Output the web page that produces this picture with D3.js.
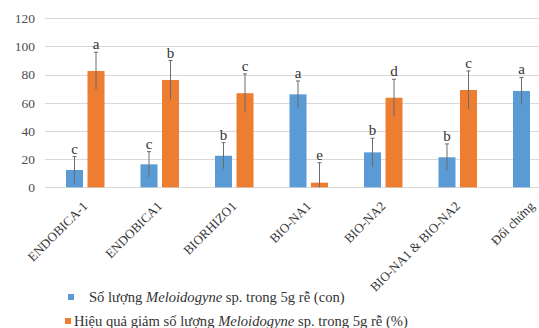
<!DOCTYPE html>
<html>
<head>
<meta charset="utf-8">
<script src="https://cdn.jsdelivr.net/npm/d3@7"></script>
<style>
  body { margin: 0; background: #fff; }
  text { font-family: "Liberation Serif", "DejaVu Serif", serif; }
</style>
</head>
<body>
<div id="chart"></div>
<script>
const categories = ["ENDOBICA-1", "ENDOBICA1", "BIORHIZO1", "BIO-NA1", "BIO-NA2", "BIO-NA1 & BIO-NA2", "Đối chứng"];
const series = ["count", "eff"];
const countValues = [12.3, 16.3, 22.4, 66, 24.8, 21.3, 68.4];
const countErr = [9.5, 9, 9.3, 9.5, 10, 9.5, 9.6];
const countLetters = ["c", "c", "b", "a", "b", "b", "a"];
const effValues = [82.6, 76.2, 66.8, 3.3, 63.6, 69.1, null];
const effErr = [13.3, 13.8, 13.7, 14.2, 13.1, 13.5, null];
const effLetters = ["a", "b", "c", "e", "d", "c", ""];
const yTicks = [0, 20, 40, 60, 80, 100, 120];

const width = 539;
const height = 328;
const serif = "Liberation Serif, DejaVu Serif, serif";

const svg = d3.select("#chart")
  .append("svg")
  .attr("width", width)
  .attr("height", height)
  .attr("font-family", serif);

const color = d3.scaleOrdinal()
  .domain(series)
  .range(["#5b9bd5", "#ed7d31"]);

// plot area runs past the right edge, like the cropped original
const x0 = d3.scaleBand()
  .domain(categories)
  .range([46, 46 + 74.5 * categories.length]);

const x1 = d3.scaleBand()
  .domain(series)
  .range([20, 58.5])
  .paddingInner(0.21);

const y = d3.scaleLinear()
  .domain([0, 120])
  .range([187.3, 18.3]);

// gridlines
svg.append("g")
  .selectAll("line")
  .data(yTicks)
  .enter().append("line")
  .attr("x1", 45)
  .attr("x2", width)
  .attr("y1", d => Math.round(y(d)) + 0.5)
  .attr("y2", d => Math.round(y(d)) + 0.5)
  .attr("stroke", "#d9d9d9")
  .attr("stroke-width", 1);

// y tick labels
svg.append("g")
  .selectAll("text")
  .data(yTicks)
  .enter().append("text")
  .attr("x", 35)
  .attr("y", d => y(d))
  .attr("dy", "0.35em")
  .attr("text-anchor", "end")
  .attr("font-family", serif)
  .style("font-size", "13.5px")
  .style("fill", "#4d4d4d")
  .text(d => d);

const rows = categories.map((c, i) => ({
  cat: c,
  bars: [
    { key: "count", value: countValues[i], err: countErr[i], letter: countLetters[i] },
    { key: "eff", value: effValues[i], err: effErr[i], letter: effLetters[i] }
  ].filter(b => b.value != null)
}));

const groups = svg.selectAll(".group")
  .data(rows)
  .enter().append("g")
  .attr("class", "group")
  .attr("transform", d => `translate(${x0(d.cat)},0)`);

const bars = groups.selectAll(".bar")
  .data(d => d.bars)
  .enter().append("g")
  .attr("class", "bar");

bars.append("rect")
  .attr("x", d => x1(d.key))
  .attr("y", d => y(d.value))
  .attr("width", x1.bandwidth())
  .attr("height", d => y(0) - y(d.value))
  .attr("fill", d => color(d.key));

// error bars
const cx = d => x1(d.key) + x1.bandwidth() / 2;
bars.append("line")
  .attr("x1", cx).attr("x2", cx)
  .attr("y1", d => y(d.value + d.err))
  .attr("y2", d => y(Math.max(0, d.value - d.err)))
  .attr("stroke", "#6b6b6b")
  .attr("stroke-width", 1);

bars.append("line")
  .attr("x1", d => cx(d) - 2).attr("x2", d => cx(d) + 2)
  .attr("y1", d => y(d.value + d.err))
  .attr("y2", d => y(d.value + d.err))
  .attr("stroke", "#6b6b6b")
  .attr("stroke-width", 1);

// significance letters
bars.append("text")
  .attr("x", cx)
  .attr("y", d => y(d.value + d.err) - 3)
  .attr("text-anchor", "middle")
  .attr("font-family", serif)
  .style("font-size", "15px")
  .style("fill", "#333")
  .text(d => d.letter);

// x labels
svg.append("g")
  .selectAll("text")
  .data(categories)
  .enter().append("text")
  .attr("transform", d => `translate(${x0(d) + x0.bandwidth() / 2 + 5},${207}) rotate(-45)`)
  .attr("text-anchor", "end")
  .attr("font-family", serif)
  .style("font-size", "13px")
  .style("fill", "#333")
  .text(d => d);

// legend
const legendData = [
  { key: "count", sx: 68, tx: 89, y: 297, parts: ["Số lượng ", "Meloidogyne", " sp. trong 5g rễ (con)"] },
  { key: "eff", sx: 65, tx: 74, y: 321, parts: ["Hiệu quả giảm số lượng ", "Meloidogyne", " sp. trong 5g rễ (%)"] }
];

const legend = svg.selectAll(".legend")
  .data(legendData)
  .enter().append("g")
  .attr("class", "legend");

legend.append("rect")
  .attr("x", d => d.sx)
  .attr("y", d => d.y - 3)
  .attr("width", 6)
  .attr("height", 6)
  .attr("fill", d => color(d.key));

const lt = legend.append("text")
  .attr("x", d => d.tx)
  .attr("y", d => d.y)
  .attr("dy", "0.35em")
  .attr("font-family", serif)
  .style("font-size", "14.6px")
  .style("fill", "#333");

lt.selectAll("tspan")
  .data(d => d.parts)
  .enter().append("tspan")
  .style("font-style", (d, i) => i === 1 ? "italic" : "normal")
  .text(d => d);
</script>
</body>
</html>
